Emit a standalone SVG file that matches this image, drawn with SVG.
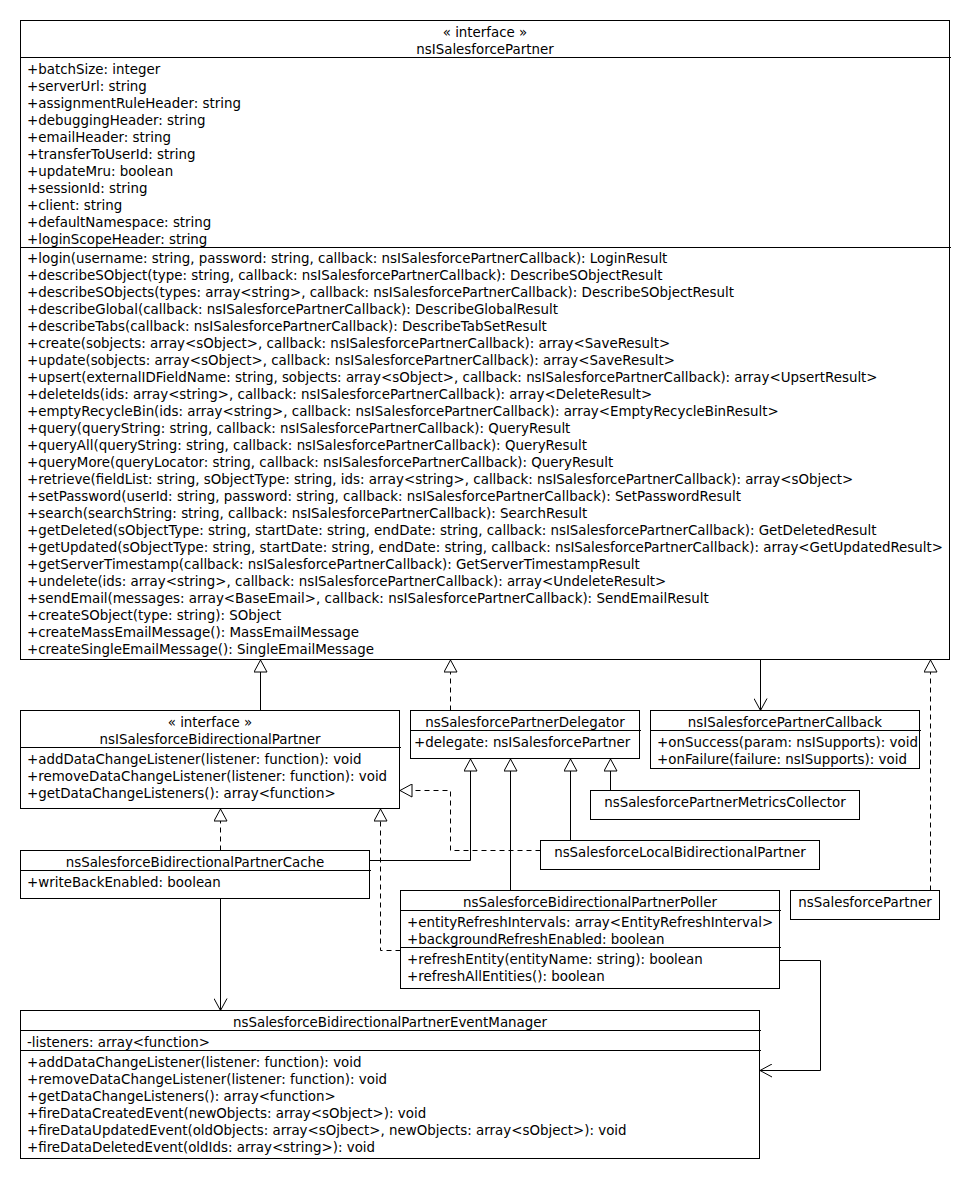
<svg xmlns="http://www.w3.org/2000/svg" width="970" height="1180" viewBox="0 0 970 1180">
<style>
.box{fill:#fff;stroke:#000;stroke-width:1}
.div{stroke:#000;stroke-width:1}
text{font-family:"DejaVu Sans","Liberation Sans",sans-serif;font-size:13.4px;fill:#000}
.c{text-anchor:middle}
.ln{fill:none;stroke:#000;stroke-width:1}
.d{stroke-dasharray:5,4}
</style>
<defs>
<marker id="tri" markerUnits="userSpaceOnUse" viewBox="0 0 13 14" refX="12.5" refY="7" markerWidth="13" markerHeight="14" orient="auto">
<path d="M0.5,0.5 L12.5,7 L0.5,13.5 Z" fill="#fff" stroke="#000" stroke-width="1"/>
</marker>
<marker id="open" markerUnits="userSpaceOnUse" viewBox="0 0 13 14" refX="12.5" refY="7" markerWidth="13" markerHeight="14" orient="auto">
<path d="M0.5,0.5 L12.5,7 L0.5,13.5" fill="none" stroke="#000" stroke-width="1"/>
</marker>
</defs>

<g id="connectors">
<path class="ln" d="M260.5,710.5 L260.5,660" marker-end="url(#tri)"/>
<path class="ln d" d="M450.5,710.5 L450.5,660" marker-end="url(#tri)"/>
<path class="ln" d="M760.5,660 L760.5,710.5" marker-end="url(#open)"/>
<path class="ln d" d="M930.5,890.5 L930.5,660" marker-end="url(#tri)"/>
<path class="ln" d="M610.5,790.5 L610.5,759" marker-end="url(#tri)"/>
<path class="ln" d="M570.5,840.5 L570.5,759" marker-end="url(#tri)"/>
<path class="ln" d="M510.5,890.5 L510.5,759" marker-end="url(#tri)"/>
<path class="ln" d="M369.5,860.5 L470.5,860.5 L470.5,759" marker-end="url(#tri)"/>
<path class="ln d" d="M540.5,850.5 L450.5,850.5 L450.5,790.5 L400,790.5" marker-end="url(#tri)"/>
<path class="ln d" d="M220.5,850.5 L220.5,809" marker-end="url(#tri)"/>
<path class="ln d" d="M400.5,950.5 L380.5,950.5 L380.5,809" marker-end="url(#tri)"/>
<path class="ln" d="M220.5,898.5 L220.5,1010.5" marker-end="url(#open)"/>
<path class="ln" d="M779.5,960.5 L820.5,960.5 L820.5,1070.5 L760,1070.5" marker-end="url(#open)"/>
</g>

<g id="nsISalesforcePartner">
<rect class="box" x="20.5" y="20.5" width="929" height="639"/>
<line class="div" x1="20.5" y1="57.5" x2="951" y2="57.5"/>
<line class="div" x1="20.5" y1="247.5" x2="951" y2="247.5"/>
<text class="c" x="485" y="37">« interface »</text>
<text class="c" x="485" y="53.5">nsISalesforcePartner</text>
<text x="27" y="73.5">+batchSize: integer</text>
<text x="27" y="90.5">+serverUrl: string</text>
<text x="27" y="107.5">+assignmentRuleHeader: string</text>
<text x="27" y="124.5">+debuggingHeader: string</text>
<text x="27" y="141.5">+emailHeader: string</text>
<text x="27" y="158.5">+transferToUserId: string</text>
<text x="27" y="175.5">+updateMru: boolean</text>
<text x="27" y="192.5">+sessionId: string</text>
<text x="27" y="209.5">+client: string</text>
<text x="27" y="226.5">+defaultNamespace: string</text>
<text x="27" y="243.5">+loginScopeHeader: string</text>
<text x="27" y="262.5">+login(username: string, password: string, callback: nsISalesforcePartnerCallback): LoginResult</text>
<text x="27" y="279.5">+describeSObject(type: string, callback: nsISalesforcePartnerCallback): DescribeSObjectResult</text>
<text x="27" y="296.5">+describeSObjects(types: array&lt;string&gt;, callback: nsISalesforcePartnerCallback): DescribeSObjectResult</text>
<text x="27" y="313.5">+describeGlobal(callback: nsISalesforcePartnerCallback): DescribeGlobalResult</text>
<text x="27" y="330.5">+describeTabs(callback: nsISalesforcePartnerCallback): DescribeTabSetResult</text>
<text x="27" y="347.5">+create(sobjects: array&lt;sObject&gt;, callback: nsISalesforcePartnerCallback): array&lt;SaveResult&gt;</text>
<text x="27" y="364.5">+update(sobjects: array&lt;sObject&gt;, callback: nsISalesforcePartnerCallback): array&lt;SaveResult&gt;</text>
<text x="27" y="381.5">+upsert(externalIDFieldName: string, sobjects: array&lt;sObject&gt;, callback: nsISalesforcePartnerCallback): array&lt;UpsertResult&gt;</text>
<text x="27" y="398.5">+deleteIds(ids: array&lt;string&gt;, callback: nsISalesforcePartnerCallback): array&lt;DeleteResult&gt;</text>
<text x="27" y="415.5">+emptyRecycleBin(ids: array&lt;string&gt;, callback: nsISalesforcePartnerCallback): array&lt;EmptyRecycleBinResult&gt;</text>
<text x="27" y="432.5">+query(queryString: string, callback: nsISalesforcePartnerCallback): QueryResult</text>
<text x="27" y="449.5">+queryAll(queryString: string, callback: nsISalesforcePartnerCallback): QueryResult</text>
<text x="27" y="466.5">+queryMore(queryLocator: string, callback: nsISalesforcePartnerCallback): QueryResult</text>
<text x="27" y="483.5">+retrieve(fieldList: string, sObjectType: string, ids: array&lt;string&gt;, callback: nsISalesforcePartnerCallback): array&lt;sObject&gt;</text>
<text x="27" y="500.5">+setPassword(userId: string, password: string, callback: nsISalesforcePartnerCallback): SetPasswordResult</text>
<text x="27" y="517.5">+search(searchString: string, callback: nsISalesforcePartnerCallback): SearchResult</text>
<text x="27" y="534.5">+getDeleted(sObjectType: string, startDate: string, endDate: string, callback: nsISalesforcePartnerCallback): GetDeletedResult</text>
<text x="27" y="551.5">+getUpdated(sObjectType: string, startDate: string, endDate: string, callback: nsISalesforcePartnerCallback): array&lt;GetUpdatedResult&gt;</text>
<text x="27" y="568.5">+getServerTimestamp(callback: nsISalesforcePartnerCallback): GetServerTimestampResult</text>
<text x="27" y="585.5">+undelete(ids: array&lt;string&gt;, callback: nsISalesforcePartnerCallback): array&lt;UndeleteResult&gt;</text>
<text x="27" y="602.5">+sendEmail(messages: array&lt;BaseEmail&gt;, callback: nsISalesforcePartnerCallback): SendEmailResult</text>
<text x="27" y="619.5">+createSObject(type: string): SObject</text>
<text x="27" y="636.5">+createMassEmailMessage(): MassEmailMessage</text>
<text x="27" y="653.5">+createSingleEmailMessage(): SingleEmailMessage</text>
</g>

<g id="nsISalesforceBidirectionalPartner">
<rect class="box" x="20.5" y="710.5" width="379" height="98"/>
<line class="div" x1="20.5" y1="747.5" x2="401" y2="747.5"/>
<text class="c" x="210" y="727">« interface »</text>
<text class="c" x="210" y="744">nsISalesforceBidirectionalPartner</text>
<text x="27" y="763.5">+addDataChangeListener(listener: function): void</text>
<text x="27" y="780.5">+removeDataChangeListener(listener: function): void</text>
<text x="27" y="797.5">+getDataChangeListeners(): array&lt;function&gt;</text>
</g>

<g id="nsSalesforcePartnerDelegator">
<rect class="box" x="410.5" y="710.5" width="229" height="48"/>
<line class="div" x1="410.5" y1="730.5" x2="641" y2="730.5"/>
<text class="c" x="525" y="726.5">nsSalesforcePartnerDelegator</text>
<text x="414" y="746.5">+delegate: nsISalesforcePartner</text>
</g>

<g id="nsISalesforcePartnerCallback">
<rect class="box" x="650.5" y="710.5" width="269" height="58"/>
<line class="div" x1="650.5" y1="730.5" x2="921" y2="730.5"/>
<text class="c" x="785" y="726.5">nsISalesforcePartnerCallback</text>
<text x="657" y="746.5">+onSuccess(param: nsISupports): void</text>
<text x="657" y="763.5">+onFailure(failure: nsISupports): void</text>
</g>

<g id="nsSalesforcePartnerMetricsCollector">
<rect class="box" x="590.5" y="790.5" width="269" height="29"/>
<text class="c" x="725" y="807">nsSalesforcePartnerMetricsCollector</text>
</g>

<g id="nsSalesforceLocalBidirectionalPartner">
<rect class="box" x="540.5" y="840.5" width="279" height="29"/>
<text class="c" x="680" y="857">nsSalesforceLocalBidirectionalPartner</text>
</g>

<g id="nsSalesforceBidirectionalPartnerCache">
<rect class="box" x="20.5" y="850.5" width="349" height="48"/>
<line class="div" x1="20.5" y1="870.5" x2="371" y2="870.5"/>
<text class="c" x="195" y="867">nsSalesforceBidirectionalPartnerCache</text>
<text x="27" y="886.5">+writeBackEnabled: boolean</text>
</g>

<g id="nsSalesforceBidirectionalPartnerPoller">
<rect class="box" x="400.5" y="890.5" width="379" height="98"/>
<line class="div" x1="400.5" y1="910.5" x2="781" y2="910.5"/>
<line class="div" x1="400.5" y1="947.5" x2="781" y2="947.5"/>
<text class="c" x="590" y="906.5">nsSalesforceBidirectionalPartnerPoller</text>
<text x="407" y="926.5">+entityRefreshIntervals: array&lt;EntityRefreshInterval&gt;</text>
<text x="407" y="943.5">+backgroundRefreshEnabled: boolean</text>
<text x="407" y="963.5">+refreshEntity(entityName: string): boolean</text>
<text x="407" y="980.5">+refreshAllEntities(): boolean</text>
</g>

<g id="nsSalesforcePartner">
<rect class="box" x="790.5" y="890.5" width="149" height="29"/>
<text class="c" x="865" y="906.5">nsSalesforcePartner</text>
</g>

<g id="nsSalesforceBidirectionalPartnerEventManager">
<rect class="box" x="20.5" y="1010.5" width="739" height="148"/>
<line class="div" x1="20.5" y1="1030.5" x2="761" y2="1030.5"/>
<line class="div" x1="20.5" y1="1050.5" x2="761" y2="1050.5"/>
<text class="c" x="390" y="1026.5">nsSalesforceBidirectionalPartnerEventManager</text>
<text x="27" y="1046.5">-listeners: array&lt;function&gt;</text>
<text x="27" y="1066.5">+addDataChangeListener(listener: function): void</text>
<text x="27" y="1083.5">+removeDataChangeListener(listener: function): void</text>
<text x="27" y="1100.5">+getDataChangeListeners(): array&lt;function&gt;</text>
<text x="27" y="1117.5">+fireDataCreatedEvent(newObjects: array&lt;sObject&gt;): void</text>
<text x="27" y="1134.5">+fireDataUpdatedEvent(oldObjects: array&lt;sOjbect&gt;, newObjects: array&lt;sObject&gt;): void</text>
<text x="27" y="1151.5">+fireDataDeletedEvent(oldIds: array&lt;string&gt;): void</text>
</g>
</svg>
